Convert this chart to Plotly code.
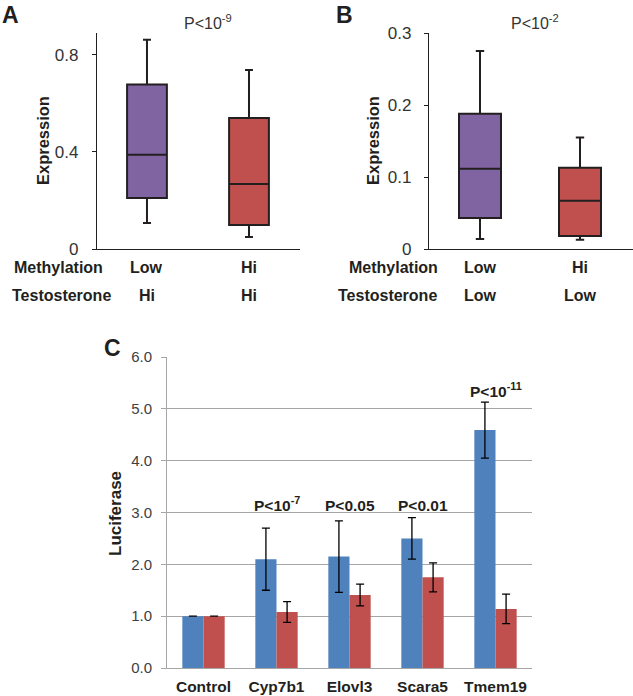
import plotly.graph_objects as go

W, H = 633, 696
def px(x): return x / W
def py(y): return 1 - y / H

# ---- data ----
box_groups = ["Low", "Hi"]
a_lower = [0.107, 0.049]
a_q1 = [0.21, 0.099]
a_median = [0.388, 0.268]
a_q3 = [0.678, 0.54]
a_upper = [0.862, 0.738]

b_lower = [0.014, 0.013]
b_q1 = [0.043, 0.018]
b_median = [0.1115, 0.067]
b_q3 = [0.188, 0.113]
b_upper = [0.275, 0.155]

a_methylation = ["Low", "Hi"]
a_testosterone = ["Hi", "Hi"]
b_methylation = ["Low", "Hi"]
b_testosterone = ["Low", "Low"]

genes = ["Control", "Cyp7b1", "Elovl3", "Scara5", "Tmem19"]
blue_vals = [1.0, 2.10, 2.15, 2.50, 4.59]
blue_err = [0.0, 0.60, 0.69, 0.40, 0.54]
red_vals = [1.0, 1.08, 1.41, 1.75, 1.14]
red_err = [0.0, 0.20, 0.21, 0.28, 0.285]
p_labels = ["", "P<10<sup>-7</sup>", "P<0.05", "P<0.01", "P<10<sup>-11</sup>"]
p_y = [None, 2.93, 2.93, 2.93, 5.13]

PURPLE = "#8064A2"
RED = "#C0504D"
BLUE = "#4F81BD"
DARK = "#231F20"
FONT = "Liberation Sans, Arial, sans-serif"

fig = go.Figure()

box_cols = [PURPLE, RED]
for i, g in enumerate(box_groups):
    fig.add_trace(go.Box(x=[g], q1=[a_q1[i]], median=[a_median[i]], q3=[a_q3[i]],
                         lowerfence=[a_lower[i]], upperfence=[a_upper[i]],
                         width=0.39, whiskerwidth=0.2, boxpoints=False,
                         fillcolor=box_cols[i], line=dict(color=DARK, width=2),
                         xaxis="x", yaxis="y", showlegend=False))
    fig.add_trace(go.Box(x=[g], q1=[b_q1[i]], median=[b_median[i]], q3=[b_q3[i]],
                         lowerfence=[b_lower[i]], upperfence=[b_upper[i]],
                         width=0.42, whiskerwidth=0.2, boxpoints=False,
                         fillcolor=box_cols[i], line=dict(color=DARK, width=2),
                         xaxis="x2", yaxis="y2", showlegend=False))

fig.add_trace(go.Bar(x=genes, y=blue_vals, marker=dict(color=BLUE, line=dict(width=0)),
                     error_y=dict(type="data", array=blue_err, color="black", thickness=1.3, width=4),
                     xaxis="x3", yaxis="y3", showlegend=False))
fig.add_trace(go.Bar(x=genes, y=red_vals, marker=dict(color=RED, line=dict(width=0)),
                     error_y=dict(type="data", array=red_err, color="black", thickness=1.3, width=4),
                     xaxis="x3", yaxis="y3", showlegend=False))

ab_y = dict(showline=True, linecolor=DARK, linewidth=1.2, ticks="outside", ticklen=4,
            tickcolor=DARK, showgrid=False, zeroline=False, automargin=False,
            tickfont=dict(family=FONT, size=17, color="#333333"))
ab_x = dict(showline=True, linecolor=DARK, linewidth=1.2, showticklabels=False, ticks="",
            showgrid=False, zeroline=False, type="category", automargin=False)

fig.update_layout(
    width=W, height=H, margin=dict(l=0, r=0, t=0, b=0, autoexpand=False),
    paper_bgcolor="white", plot_bgcolor="white",
    font=dict(family=FONT, color=DARK),
    barmode="group", bargap=0.42, bargroupgap=0,
    xaxis=dict(ab_x, domain=[px(97), px(300)], range=[-0.49, 1.5], anchor="y"),
    yaxis=dict(ab_y, domain=[py(249), py(33)], range=[0, 0.89], tickvals=[0, 0.4, 0.8],
               ticktext=["0", "0.4", "0.8"], anchor="x", ticklabelstandoff=10),
    xaxis2=dict(ab_x, domain=[px(429), 1.0], range=[-0.51, 1.53], anchor="y2"),
    yaxis2=dict(ab_y, domain=[py(249), py(33)], range=[0, 0.3], tickvals=[0, 0.1, 0.2, 0.3],
                ticktext=["0", "0.1", "0.2", "0.3"], anchor="x2", ticklabelstandoff=9),
    xaxis3=dict(domain=[px(167), px(532)], anchor="y3", showline=True, linecolor="#A6A6A6",
                linewidth=1, ticks="", showgrid=False, zeroline=False, automargin=False,
                tickvals=genes, ticktext=["<b>%s</b>" % g for g in genes],
                tickfont=dict(family=FONT, size=15.5, color=DARK), ticklabelstandoff=4),
    yaxis3=dict(domain=[py(668), py(357)], range=[0, 6], anchor="x3", showline=True,
                linecolor="#A6A6A6", linewidth=1, ticks="outside", ticklen=5, tickcolor="#A6A6A6",
                showgrid=True, gridcolor="#A6A6A6", gridwidth=1, zeroline=False, automargin=False,
                tickvals=[0, 1, 2, 3, 4, 5, 6], tickformat=".1f", ticklabelstandoff=6,
                tickfont=dict(family=FONT, size=15, color="#404040")),
)

ann = []
def t(text, x, y, size=16, xref="paper", yref="paper", xanchor="center", bold=True,
      color=DARK, angle=0, yanchor="middle"):
    ann.append(dict(text=("<b>%s</b>" % text) if bold else text, x=x, y=y, xref=xref, yref=yref,
                    xanchor=xanchor, yanchor=yanchor, showarrow=False, textangle=angle,
                    font=dict(family=FONT, size=size, color=color)))

# panel letters
t("A", 0, py(15), size=23, xanchor="left")
t("B", px(344), py(15), size=23)
t("C", px(112), py(348), size=23)

# axis titles
t("Expression", px(43), py(141), size=16.5, angle=-90)
t("Expression", px(373), py(141), size=16.5, angle=-90)
t("Luciferase", px(115), py(514), size=17, angle=-90)

# p values A/B
t("P<10<sup>-9</sup>", px(208), py(22), size=16, bold=False, color="#333333")
t("P<10<sup>-2</sup>", px(535), py(22), size=16, bold=False, color="#333333")

# row labels
t("Methylation", px(12), py(268), xanchor="left")
t("Testosterone", px(10), py(295), xanchor="left")
t("Methylation", px(347), py(268), xanchor="left")
t("Testosterone", px(336), py(295), xanchor="left")
for i, g in enumerate(box_groups):
    t(a_methylation[i], g, py(268), xref="x")
    t(a_testosterone[i], g, py(295), xref="x")
    t(b_methylation[i], g, py(268), xref="x2")
    t(b_testosterone[i], g, py(295), xref="x2")

# p values C
for g, lab, yy in zip(genes, p_labels, p_y):
    if lab:
        t(lab, g, yy, xref="x3", yref="y3", size=15.5, yanchor="bottom")

fig.update_layout(annotations=ann)
fig.write_html("out.html", config={"displayModeBar": False},
               post_script="document.body.style.margin='0';document.body.style.overflow='hidden';")
